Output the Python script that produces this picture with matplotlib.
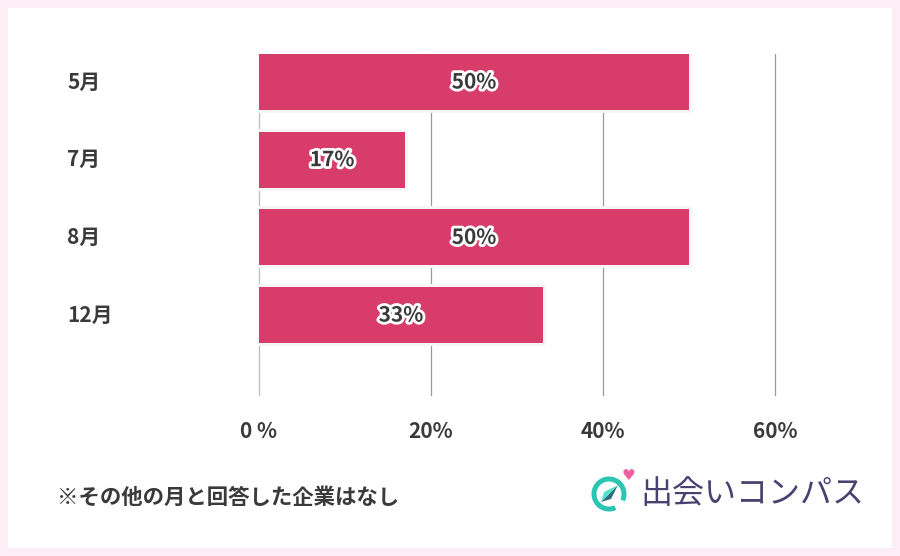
import matplotlib
matplotlib.use("Agg")
import matplotlib.pyplot as plt
import matplotlib.patheffects as pe
from matplotlib.patches import Rectangle, Wedge, Polygon

plt.rcParams['font.family'] = ['Noto Sans CJK JP', 'DejaVu Sans']

categories = ["5月", "7月", "8月", "12月"]
values = [50, 17, 50, 33]
value_labels = ["50%", "17%", "50%", "33%"]
xticks = [0, 20, 40, 60]
xtick_labels = ["0 %", "20%", "40%", "60%"]
note = "※その他の月と回答した企業はなし"
brand = "出会いコンパス"

W, H = 900, 556
fig = plt.figure(figsize=(9, 5.56), dpi=100)
fig.patch.set_facecolor('#fdeef5')

bg = fig.add_axes([0, 0, 1, 1], facecolor='none', zorder=-5)
bg.set_xlim(0, W)
bg.set_ylim(H, 0)
bg.axis('off')
bg.add_patch(Rectangle((8, 8), 892 - 8, 548 - 8, facecolor='white', edgecolor='none'))

ax = fig.add_axes([259 / W, 1 - 395 / H, (775 - 259) / W, (395 - 54) / H], zorder=1)
ax.set_facecolor('none')
ax.set_xlim(0, 60)
pitch = 77.7
bh = 56 / pitch
ax.set_ylim((395 - 82) / pitch, -bh / 2)

ypos = list(range(len(categories)))
for x in xticks:
    ax.axvline(x, color='#bdbdbd' if x == 0 else '#9a9a9a', lw=0.9, zorder=1,
               clip_on=False)

ax.barh(ypos, values, height=bh, color='#d73c6b', edgecolor='#f6f6f6',
        linewidth=4.3, zorder=2)
ax.barh(ypos, values, height=bh, color='#d73c6b', edgecolor='none', zorder=3)

for y, v, lab in zip(ypos, values, value_labels):
    ax.text(v / 2, y, lab, ha='center', va='center', fontsize=15,
            fontweight='bold', color='#3a3a3a', zorder=4,
            path_effects=[pe.withStroke(linewidth=4, foreground='white')])

for s in ax.spines.values():
    s.set_visible(False)
ax.set_xticks([])
ax.set_yticks([])

for x, lab in zip(xticks, xtick_labels):
    xp = 259 + x / 60 * (775 - 259)
    fig.text(xp / W, 1 - 431 / H, lab, ha='center', va='center', fontsize=15,
             fontweight='bold', color='#3a3a3a')
for y, lab in zip(ypos, categories):
    yp = 82 + y * pitch
    fig.text(67 / W, 1 - yp / H, lab, ha='left', va='center', fontsize=15,
             fontweight='bold', color='#3a3a3a')

fig.text(57 / W, 1 - 497 / H, note, ha='left', va='center', fontsize=15.4,
         fontweight='bold', color='#3a3a3a')

# logo
lax = fig.add_axes([0, 0, 1, 1], facecolor='none', zorder=2)
lax.set_xlim(0, W)
lax.set_ylim(H, 0)
lax.axis('off')
cx, cy, r = 609, 494, 15
lax.add_patch(Wedge((cx, cy), r + 2.5, 65, 25 + 360, width=5, facecolor='#2cc4b2',
                    edgecolor='none'))
lax.add_patch(Polygon([(cx - 8, cy + 8), (cx + 9, cy - 9), (cx + 2, cy + 5)],
                      closed=True, facecolor='#2e6c78', edgecolor='none'))
lax.add_patch(Polygon([(cx - 8, cy + 8), (cx + 9, cy - 9), (cx - 5, cy - 2)],
                      closed=True, facecolor='#4fe3cc', edgecolor='none'))
lax.text(628, 476, "♥", ha='center', va='center', fontsize=11, color='#f060a0',
         family=['DejaVu Sans'])
fig.text(640 / W, 1 - 494 / H, brand, ha='left', va='center', fontsize=23,
         color='#4a4170')

fig.savefig('out.png', dpi=100, facecolor=fig.get_facecolor())
